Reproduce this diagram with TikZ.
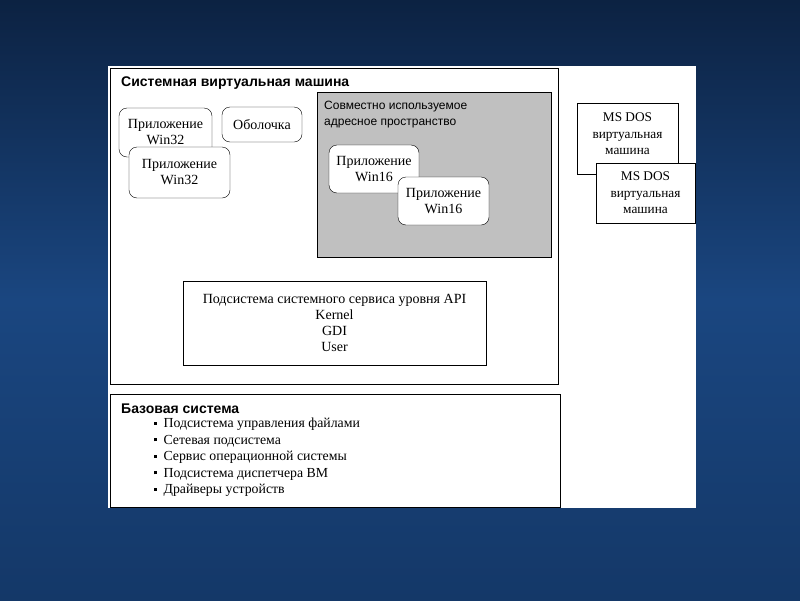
\documentclass[tikz,border=0pt]{standalone}
\usepackage{fontspec}
\setmainfont{Liberation Serif}
\setsansfont{Liberation Sans}
\usetikzlibrary{positioning}
\definecolor{bgtop}{RGB}{12,34,66}
\definecolor{bgmid}{RGB}{26,70,128}
\definecolor{bgbot}{RGB}{20,56,104}
\definecolor{shared}{RGB}{192,192,192}
\newcommand{\sqbul}{\rule[3pt]{2.5pt}{3pt}}

\begin{document}
\begin{tikzpicture}[x=1pt,y=-1pt,
  txt/.style={font=\fontsize{14}{16}\selectfont},
  app/.style={txt,draw,rounded corners=8pt,fill=white,align=center,inner sep=0pt},
  vmbox/.style={txt,draw,fill=white,align=center,inner sep=0pt},
  dostxt/.style={font=\fontsize{13.3}{16.5}\selectfont},
  heading/.style={font=\sffamily\bfseries\fontsize{14}{16}\selectfont,anchor=base west,inner sep=0pt}]
 % background and panel
 \useasboundingbox (0,0) rectangle (800,600);
 \fill[top color=bgtop,bottom color=bgmid] (0,0) rectangle (800,300);
 \fill[top color=bgmid,bottom color=bgbot] (0,300) rectangle (800,600);
 \fill[white] (108,66) rectangle (696,508);
 \node[draw,fill=white,minimum width=448pt,minimum height=316pt,inner sep=0pt] (sysvm) at (334,226) {};
 \node[draw,fill=white,minimum width=450pt,minimum height=113pt,inner sep=0pt] (base) at (335,450.5) {};
 \node[heading] (sysvmtitle) at (121,86) {Системная виртуальная машина};
 \node[heading] (basetitle) at (121,413) {Базовая система};
 % win32 side
 \node[app,minimum width=93pt,minimum height=49pt] (w32a) at (165.5,132.5) {Приложение\\Win32};
 \node[app,minimum width=101pt,minimum height=51pt] (w32b) at (179.5,172.5) {Приложение\\Win32};
 \node[app,minimum width=80pt,minimum height=35pt] (shell) at (262,124.5) {Оболочка};
 % shared address space
 \node[draw,fill=shared,minimum width=234pt,minimum height=165pt,inner sep=0pt] (shared) at (434,174.5) {};
 \node[font=\sffamily\fontsize{12}{16}\selectfont,align=left,anchor=north west,inner sep=0pt] (sharedlabel) at (324,101) {Совместно используемое\\адресное пространство};
 \node[app,minimum width=90pt,minimum height=48pt] (w16a) at (374,169) {Приложение\\Win16};
 \node[app,minimum width=91pt,minimum height=48pt] (w16b) at (443.5,201) {Приложение\\Win16};
 % api subsystem
 \node[vmbox,minimum width=303pt,minimum height=84pt] (api) at (334.5,323) {Подсистема системного сервиса уровня API\\Kernel\\GDI\\User};
 % ms dos machines
 \node[vmbox,minimum width=101pt,minimum height=71pt] (dosa) at (627.5,138.5) {};
 \node[dostxt,align=center,inner sep=0pt] (dosatext) at (627.5,134) {MS DOS\\виртуальная\\машина};
 \node[vmbox,dostxt,minimum width=99pt,minimum height=60pt] (dosb) at (645.5,193) {MS DOS\\виртуальная\\машина};
 % base system list
 \node[align=left,anchor=north west,inner sep=0pt,font=\fontsize{13.8}{16.5}\selectfont] (baselist) at (154,418)
 {\sqbul\enspace Подсистема управления файлами\\\sqbul\enspace Сетевая подсистема\\\sqbul\enspace Сервис операционной системы\\\sqbul\enspace Подсистема диспетчера ВМ\\\sqbul\enspace Драйверы устройств};
\end{tikzpicture}
\end{document}
